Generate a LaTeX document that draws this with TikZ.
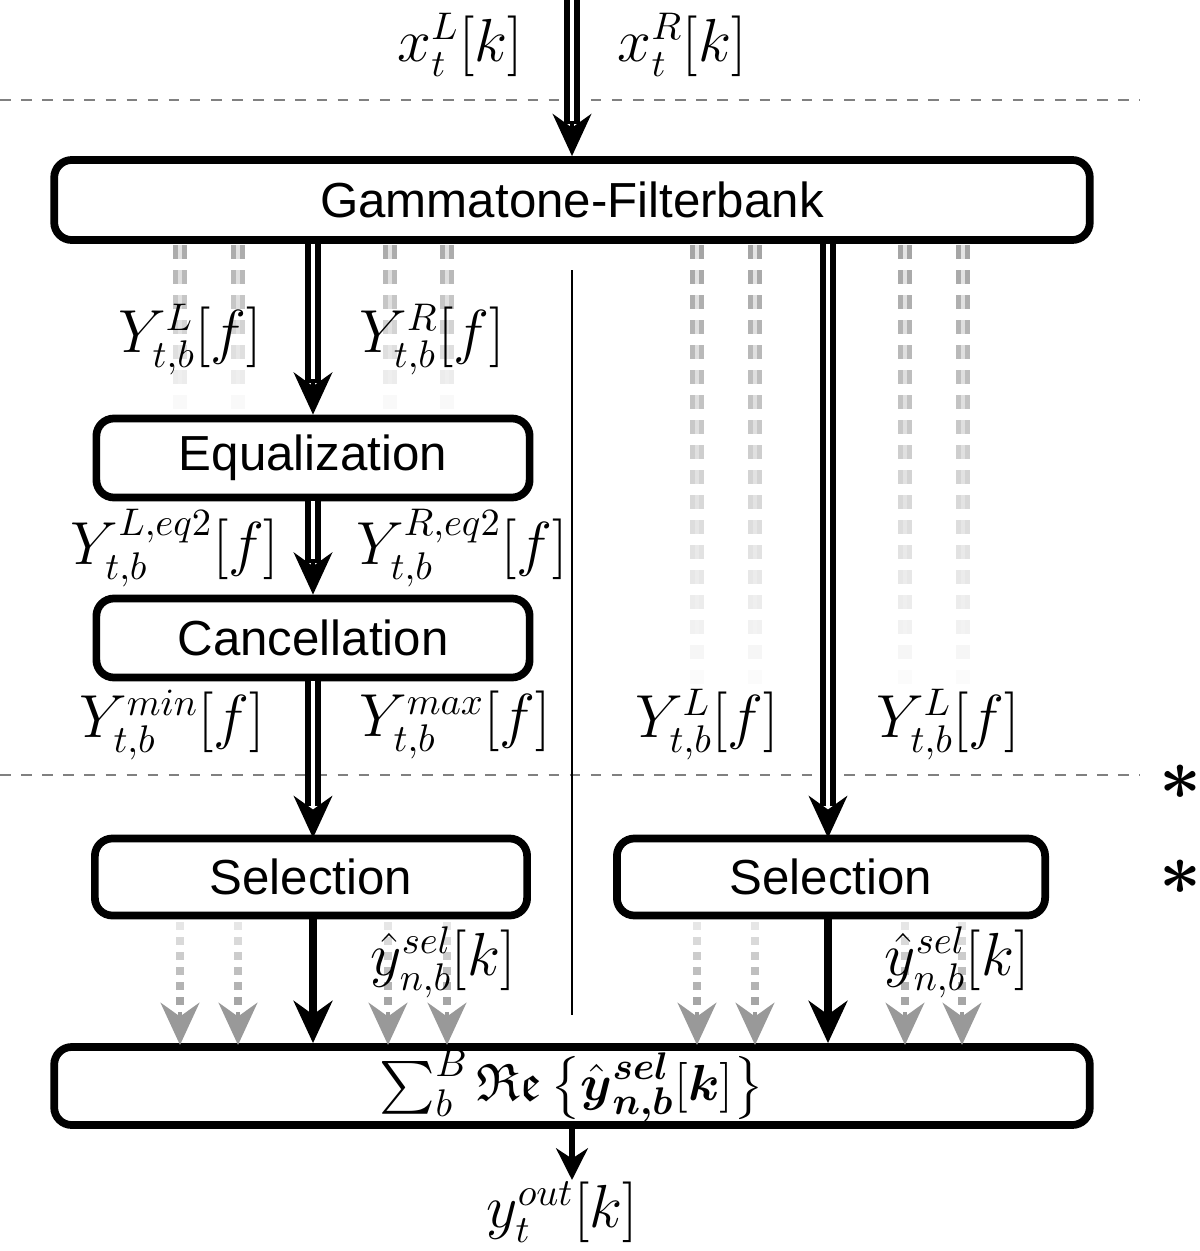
\documentclass[tikz,border=0pt]{standalone}
\usepackage{amsmath}
\usepackage{amssymb}
\usepackage{fontspec}
\setsansfont{Liberation Sans}
\usetikzlibrary{arrows.meta, calc}

\begin{document}
\begin{tikzpicture}[
            x = 0.01cm, y = -0.01cm, % pixel grid of the reference
            box/.style = {draw = black, line width = 2.2pt, rounded corners = 5pt,
                inner sep = 0pt, font = \sffamily\fontsize{14}{16}\selectfont},
            lbl/.style = {font = \fontsize{16}{18}\selectfont},
            dbl/.style = {draw = black, double = white, double distance = 1.4pt,
                line width = 1.5pt, shorten > = 9pt},
            hd/.style = {-{Stealth[length = 12pt, width = 11pt]}, line width = 1.2pt},
            arr/.style = {-{Stealth[length = 12pt, width = 11pt]}, line width = 2pt},
            sep/.style = {gray, dashed, line width = 0.6pt}
        ]

        \useasboundingbox (0, 0) rectangle (1200, 1251);

        % boxes
        \node[box, minimum width = 10.35cm, minimum height = 0.8cm] (gfb) at (572, 200) {Gammatone-Filterbank};
        \node[box, minimum width = 4.33cm, minimum height = 0.79cm] (eq) at (313, 458) {Equalization};
        \node[box, minimum width = 4.33cm, minimum height = 0.79cm] (can) at (313, 638) {Cancellation};
        \node[box, minimum width = 4.32cm, minimum height = 0.77cm] (selL) at (311, 877) {Selection};
        \node[box, minimum width = 4.28cm, minimum height = 0.77cm] (selR) at (831, 877) {Selection};
        \node[box, minimum width = 10.35cm, minimum height = 0.78cm, font = \fontsize{15}{17}\selectfont] (sum) at (572, 1086)
            {$\sum_b^B \mathfrak{Re}\left\{\hat{\boldsymbol{y}}^{\boldsymbol{sel}}_{\boldsymbol{n,b}}[\boldsymbol{k}]\right\}$};

        \coordinate (in) at (572, 0);
        \coordinate (outtip) at (572, 1180);
        \node (out) at (562, 1212) [lbl] {$y_t^{out}[k]$};

        % separators
        \draw[sep] (0, 100) -- (1140, 100);
        \draw[sep] (0, 775) -- (1140, 775);
        \draw[thin] (572, 270) -- (572, 1015);
        \node at (1180, 782) {\fontsize{20}{20}\selectfont$\boldsymbol{*}$};
        \node at (1180, 877) {\fontsize{20}{20}\selectfont$\boldsymbol{*}$};

        % inactive bands (faded)
        \foreach \x in {180, 238, 390, 447} {
            \foreach \y [count = \i] in {245, 270, 295, 320, 345, 370, 395} {
                \pgfmathsetmacro{\op}{0.75 - 0.1*\i}
                \draw[gray, opacity = \op, double = white, double distance = 1.2pt, line width = 1.3pt]
                    (\x, \y) -- (\x, \y + 14);
            }
        }
        \foreach \x in {697, 755, 905, 963} {
            \foreach \y [count = \i] in {245, 270, ..., 670} {
                \pgfmathsetmacro{\op}{0.75 - 0.04*\i}
                \draw[gray, opacity = \op, double = white, double distance = 1.2pt, line width = 1.3pt]
                    (\x, \y) -- (\x, \y + 14);
            }
        }
        \foreach \x in {180, 238, 388, 447, 697, 755, 905, 962} {
            \foreach \y [count = \i] in {922, 937, ..., 1000} {
                \pgfmathsetmacro{\op}{0.1 + 0.1*\i}
                \fill[gray, opacity = \op] (\x - 4, \y) rectangle (\x + 4, \y + 8);
            }
            \draw[-{Stealth[length = 12pt, width = 11pt]}, line width = 1.4pt, gray!80]
                (\x, 1012) -- (\x, 1045);
        }

        % signal flow
        \draw[dbl] (in) -- (gfb.north);
        \draw[hd] ([yshift = 10pt]gfb.north) -- (gfb.north);
        \draw[dbl] (gfb.south -| eq.north) -- (eq.north);
        \draw[hd] ([yshift = 10pt]eq.north) -- (eq.north);
        \draw[dbl] (eq.south) -- (can.north);
        \draw[hd] ([yshift = 10pt]can.north) -- (can.north);
        \draw[dbl] (can.south -| 313, 0) -- (313, 838);
        \draw[hd] (313, 810) -- (313, 838);
        \draw[dbl] (gfb.south -| 828, 0) -- (828, 838);
        \draw[hd] (828, 810) -- (828, 838);
        \draw[arr] (selL.south -| 313, 0) -- (sum.north -| 313, 0);
        \draw[arr] (selR.south -| 828, 0) -- (sum.north -| 828, 0);
        \draw[-{Stealth[length = 9pt, width = 9pt]}, line width = 1.6pt] (sum.south) -- (outtip);

        % labels
        \node[lbl] at (460, 45) {$x_t^L[k]$};
        \node[lbl] at (682, 45) {$x_t^R[k]$};
        \node[lbl] at (190, 340) {$Y_{t,b}^{L}[f]$};
        \node[lbl] at (432, 340) {$Y_{t,b}^{R}[f]$};
        \node[lbl] at (175, 548) {$Y_{t,b}^{L,eq2}[f]$};
        \node[lbl] at (462, 548) {$Y_{t,b}^{R,eq2}[f]$};
        \node[lbl] at (172, 725) {$Y_{t,b}^{min}[f]$};
        \node[lbl] at (455, 725) {$Y_{t,b}^{max}[f]$};
        \node[lbl] at (707, 725) {$Y_{t,b}^{L}[f]$};
        \node[lbl] at (948, 725) {$Y_{t,b}^{L}[f]$};
        \node[lbl] at (443, 962) {$\hat{y}_{n,b}^{sel}[k]$};
        \node[lbl] at (957, 962) {$\hat{y}_{n,b}^{sel}[k]$};
    \end{tikzpicture}
\end{document}
